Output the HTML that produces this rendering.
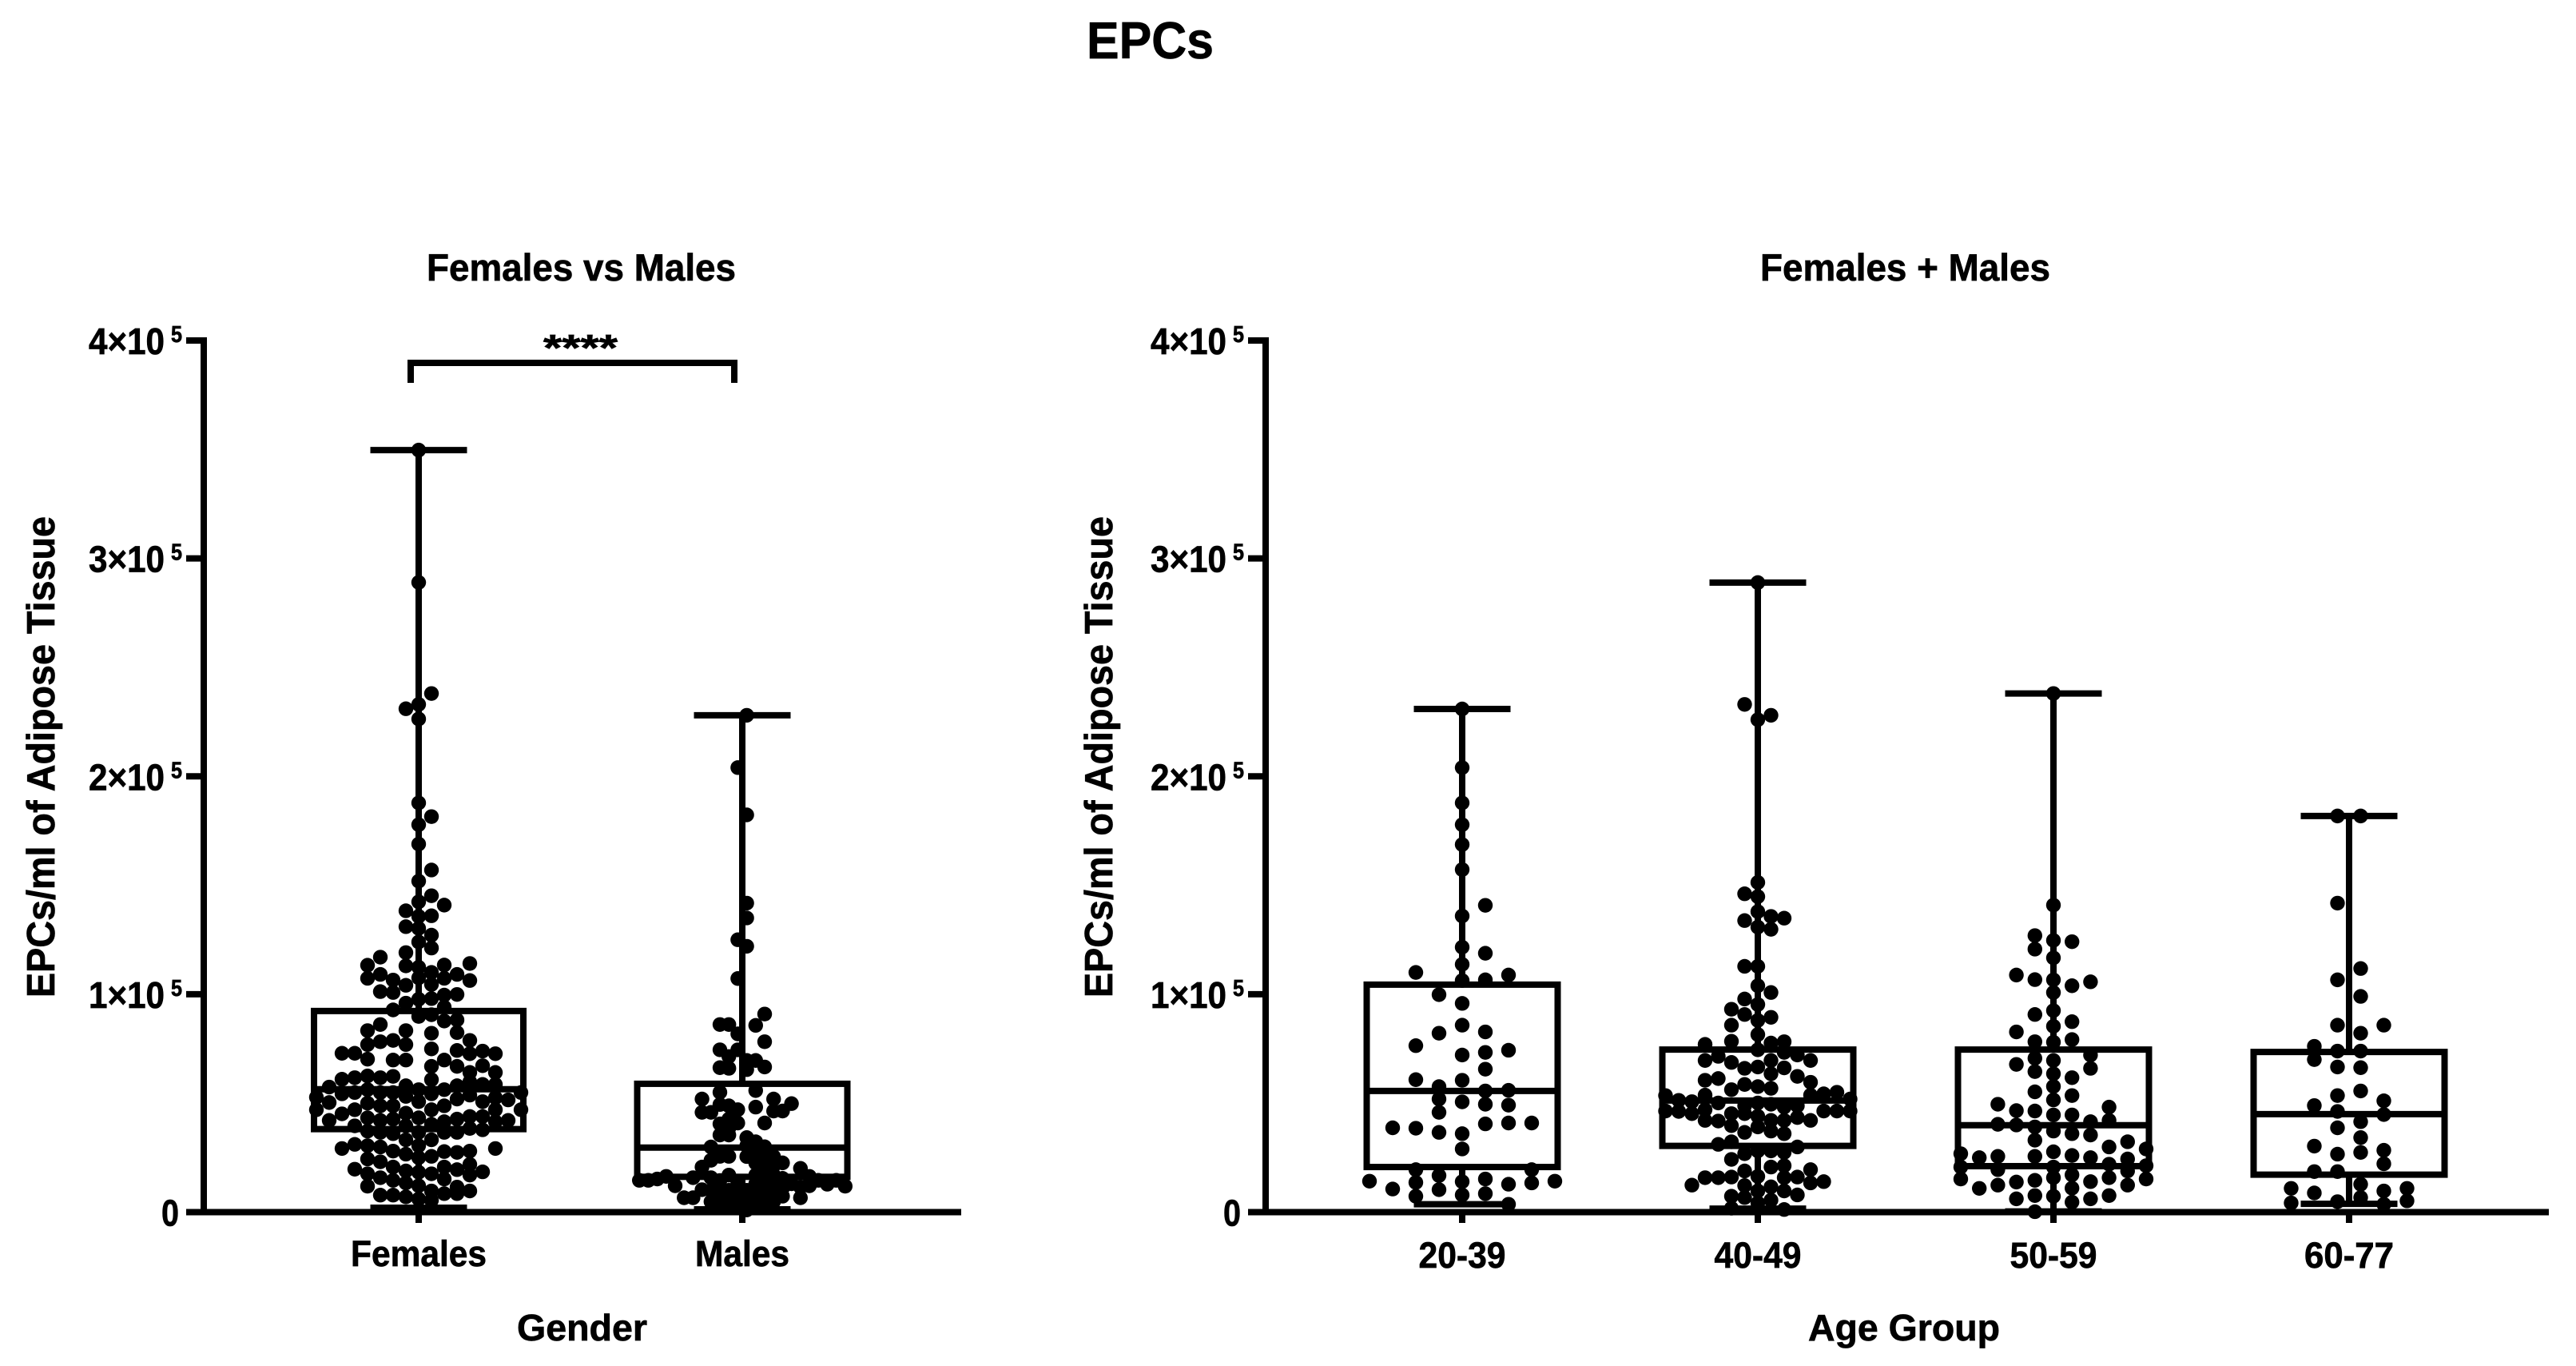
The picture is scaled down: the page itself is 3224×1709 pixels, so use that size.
<!DOCTYPE html>
<html lang="en">
<head>
<meta charset="utf-8">
<title>EPCs</title>
<style>
html,body{margin:0;padding:0;background:#fff;}
svg{display:block;}
text{font-family:"Liberation Sans",Arial,sans-serif;font-weight:bold;fill:#000;stroke:#000;stroke-width:0.7px;}
</style>
</head>
<body>
<svg id="chart" xmlns="http://www.w3.org/2000/svg" width="3224" height="1709" viewBox="0 0 3224 1709">
<rect x="0" y="0" width="3224" height="1709" fill="#fff"/>
<text x="1360" y="73" font-size="65" textLength="159" lengthAdjust="spacingAndGlyphs">EPCs</text>
<text x="534" y="351" font-size="47" textLength="387" lengthAdjust="spacingAndGlyphs">Females vs Males</text>
<text x="2203" y="351" font-size="47" textLength="363" lengthAdjust="spacingAndGlyphs">Females + Males</text>
<text x="68" y="1248" font-size="49" textLength="602" lengthAdjust="spacingAndGlyphs" transform="rotate(-90 68 1248)">EPCs/ml of Adipose Tissue</text>
<text x="1392" y="1248" font-size="49" textLength="602" lengthAdjust="spacingAndGlyphs" transform="rotate(-90 1392 1248)">EPCs/ml of Adipose Tissue</text>
<text x="647" y="1677" font-size="46" textLength="163" lengthAdjust="spacingAndGlyphs">Gender</text>
<text x="2263" y="1677" font-size="46" textLength="240" lengthAdjust="spacingAndGlyphs">Age Group</text>
<rect x="510" y="450" width="413" height="8" fill="#000"/>
<rect x="510" y="450" width="8" height="29" fill="#000"/>
<rect x="915" y="450" width="8" height="29" fill="#000"/>
<text x="680" y="451" font-size="46" textLength="93" lengthAdjust="spacingAndGlyphs">****</text>
</svg>
<script>
// Axis ticks and categories
const yTickValues = [0, 100000, 200000, 300000, 400000];
const yTickMantissa = ["0", "1×10", "2×10", "3×10", "4×10"];
const yTickExponent = ["", "5", "5", "5", "5"];
const genderCategories = ["Females", "Males"];
const ageCategories = ["20-39", "40-49", "50-59", "60-77"];

// Box statistics: [min, q1, median, q3, max]
const femalesBox = [2000, 38100, 56400, 92300, 349700];
const malesBox = [1300, 16200, 29600, 58900, 228000];
const age2039Box = [3600, 20700, 55600, 104400, 230900];
const age4049Box = [1600, 30400, 51200, 74600, 288900];
const age5059Box = [300, 21100, 39900, 74600, 238000];
const age6077Box = [3800, 17200, 45000, 73500, 181800];

// Swarm columns (integer/half-integer slot from centre) and the values in each
const femalesSlots = [-8,-7,-6,-5,-4,-3,-2,-1,0,1,2,3,4,5,6,7,8];
const femalesValues = [
[52700,47000],
[57400,50300,42100],
[72900,61000,54300,45100,29200],
[72900,61700,54900,47000,39600,31100,19700],
[113300,107300,83300,76900,70200,62500,56200,50000,43300,37200,30500,24400,17600,11900],
[117000,109100,101200,86100,78200,61700,54900,48800,42100,36600,29900,23100,15800,7800],
[106500,100800,92800,78800,69800,62300,54900,48800,42700,36000,28000,20700,14600,7800],
[231000,138300,131000,119100,113000,104100,95900,83300,76900,69800,58000,53100,45400,39600,33200,26600,18900,13400,7000],
[349700,289000,233000,226300,187800,177800,168900,151900,142400,135700,130200,124000,112400,107500,97700,89800,56200,50700,43300,36600,30500,25000,18300,12100,6000],
[238000,181500,157000,145200,136000,127100,121200,110000,104500,98000,90600,82100,74900,66900,60800,54300,47000,40300,33200,25600,17600,9700,5400],
[140900,113400,107300,99600,94100,87700,69800,56200,48800,41500,36600,27800,20700,15200,8500],
[109100,99900,88200,82400,74200,66900,58000,51900,42700,36600,27400,19500,11500,8500],
[114100,106300,78800,72700,64100,59800,53700,43900,38400,28000,21900,17000,9700],
[73900,67200,58600,50700,43900,37800,18500],
[72700,64100,58600,52500,47000,41500,29200],
[51500,42100],
[54900,47000]
];

const malesSlots = [-11.5,-10.5,-9.5,-8.5,-7.5,-6.5,-5.5,-4.5,-3.5,-2.5,-1.5,-0.5,0.5,1.5,2.5,3.5,4.5,5.5,6.5,7.5,8.5,9.5,10.5,11.5];
const malesValues = [
[14600],[14600],[15200],[16400],[12100],[6600],
[15800,6600],
[51900,45800,20700,10300],
[45800,29900,23800,15800,10000,4800],
[86100,74500,66300,55000,49400,40500,35400,25600,14500,10000,4800],
[86100,71400,66000,48800,42700,38500,35400,25600,17000,10000,4800],
[204000,125000,107200,81800,74500,47000,40900,13500,10000,6000,2000],
[228000,182300,141800,135000,122000,69600,65400,34200,30500,25500,10000,6000,1000],
[85700,69600,55800,48200,32300,28000,22500,17000,13000,10000,4800],
[90900,78200,66600,40900,30000,24400,20500,17000,13500,10000,4800],
[51900,46400,25500,21300,17000,13000,10000,7000,4800],
[46400,22600,15500,11000,7300],
[49800,13000],
[20100,11500,6600],
[16400,12100],
[14600],[12800],[14600],[11900]
];

const age2039Slots = [-4,-3,-2,-1,0,1,2,3,4];
const age2039Values = [
[14200],
[38700,10600],
[110000,76400,60800,38500,19500,13600,7300],
[99800,82100,57600,51900,45800,36600,16800,10300],
[230900,204000,187800,177800,168700,157200,135900,121600,113700,106300,95800,85800,72100,60500,50600,36000,29000,14000,7900],
[140800,118800,106600,82700,73300,65600,55600,49500,40500,15200,8500],
[108800,74300,55900,49100,40900,12800,3600],
[40900,19500,13400],
[14200]
];

const age4049Slots = [-7,-6,-5,-4,-3,-2,-1,0,1,2,3,4,5,6,7];
const age4049Values = [
[53500,46400],
[51300,46200],
[50700,45200,12400],
[77000,69600,60500,53700,47000,42100,15800],
[71500,61300,50100,41800,31100,15800],
[93100,85800,78400,68700,56200,45200,39700,32300,24200,16100,7300,1800],
[233000,146100,133800,112800,97800,90700,66000,58600,48800,45200,36600,26800,18900,12200,6700],
[288900,226000,151300,144800,137900,130800,112800,103900,95300,88000,81500,74500,66600,57600,50100,44000,39100,28100,16400,9700,4200],
[228000,135700,129800,100800,89400,77600,69600,63500,56800,49500,42100,37200,28100,20700,11600,5500],
[134900,78200,73300,66200,48200,42100,36000,27400,21300,15800,9700,1200],
[72100,62300,48800,43400,29900,16100,7900],
[69600,59600,53700,42100,19500,13400],
[54300,46400,14000],
[55000,46400],
[51900,46400]
];

const age5059Slots = [-5,-4,-3,-2,-1,0,1,2,3,4,5];
const age5059Values = [
[26800,20700,15200],
[25000,10900],
[49500,40300,25600,19500,12400],
[108800,82700,67800,46600,40000,13800,6100],
[126900,120700,106700,90700,78200,70600,64500,55200,46400,39100,33000,25600,14600,7600,200],
[238000,140900,124700,116700,106600,100800,92500,85300,78000,69600,63500,57700,51500,44600,37200,27700,20700,15800,7300],
[124100,103900,87400,79200,61700,53500,44600,36000,26000,17100,11000,4600],
[105700,72100,66000,41500,35400,25000,14000,6100],
[48200,42100,29900,22000,15800,7600],
[32300,24400,18900,12400],
[29000,21300,15200]
];

const age6077Slots = [-2.5,-1.5,-0.5,0.5,1.5,2.5];
const age6077Values = [
[10900,4200],
[76100,70000,48900,30300,18600,8800],
[181800,141800,106600,85800,73900,66600,53500,46200,38700,26600,18600,4800],
[181800,111800,99000,82100,73900,66300,55600,41500,34200,27400,12800,6700],
[85800,51100,44800,28400,22200,9700,3600],
[10900,5200]
];

const SVG_NS = "http://www.w3.org/2000/svg";
const svg = document.getElementById("chart");
const STROKE = 8;
const Y_ZERO = 1516.5;
const Y_TOP = 426;
const Y_MAX = 400000;
const DOT_R = 9.2;

function yScale(v) { return Y_ZERO - (v / Y_MAX) * (Y_ZERO - Y_TOP); }

function make(tag, attrs) {
  const el = document.createElementNS(SVG_NS, tag);
  for (const k in attrs) el.setAttribute(k, attrs[k]);
  svg.appendChild(el);
  return el;
}
function line(x1, y1, x2, y2) {
  return make("line", { x1: x1, y1: y1, x2: x2, y2: y2, stroke: "#000", "stroke-width": STROKE });
}

function drawYAxis(axisX) {
  const axis = line(axisX, Y_TOP - 4, axisX, Y_ZERO + 4);
  
  
  yTickValues.forEach(function (v, i) {
    const y = yScale(v);
    const tick = line(axisX - 22, y, axisX, y);
    
    
    const zero = yTickExponent[i] === "";
    const label = make("text", zero
      ? { x: axisX - 53, y: y + 17, "font-size": 46, textLength: 22, lengthAdjust: "spacingAndGlyphs" }
      : { x: axisX - 144, y: y + 17, "font-size": 46, textLength: 95, lengthAdjust: "spacingAndGlyphs" });
    
    
    label.textContent = yTickMantissa[i];
    if (!zero) {
      const sup = make("text", { x: axisX - 41, y: y + 2, "font-size": 29, textLength: 14, lengthAdjust: "spacingAndGlyphs" });
      
      
      sup.textContent = yTickExponent[i];
    }
  });
}

function drawXAxis(axisX, endX, categories, xScale, labelWidths, baseline) {
  const axis = line(axisX - 22, Y_ZERO, endX, Y_ZERO);
  
  
  categories.forEach(function (name, i) {
    const x = xScale(i);
    const tick = line(x, Y_ZERO, x, 1530);
    
    
    const label = make("text", { x: x - labelWidths[i] / 2, y: baseline, "font-size": 45, textLength: labelWidths[i], lengthAdjust: "spacingAndGlyphs" });
    
    
    label.textContent = name;
  });
}

function drawGroup(cx, name, box, halfWidth, slots, values, spacing) {
  const yMin = yScale(box[0]), yQ1 = yScale(box[1]), yMed = yScale(box[2]), yQ3 = yScale(box[3]), yMax = yScale(box[4]);
  const capHalf = 60.5;

  const whiskerUp = line(cx, yQ3, cx, yMax);
  
  
  const whiskerDown = line(cx, yQ1, cx, yMin);
  
  
  const capTop = line(cx - capHalf, yMax, cx + capHalf, yMax);
  
  
  const capBottom = line(cx - capHalf, yMin, cx + capHalf, yMin);
  
  

  const rect = make("rect", { x: cx - halfWidth, y: yQ3, width: halfWidth * 2, height: yQ1 - yQ3, fill: "none", stroke: "#000", "stroke-width": STROKE });
  
  
  const median = line(cx - halfWidth, yMed, cx + halfWidth, yMed);
  
  

  slots.forEach(function (slot, c) {
    values[c].forEach(function (v) {
      const dot = make("circle", { cx: cx + slot * spacing, cy: yScale(v), r: DOT_R, fill: "#000" });
      
      
    });
  });
}

function genderX(i) { return 524 + i * 405; }
function ageX(i) { return 1830 + i * 370; }

drawYAxis(255);
drawYAxis(1584);
drawXAxis(255, 1203, genderCategories, genderX, [170, 118], 1584);
drawXAxis(1584, 3190, ageCategories, ageX, [109, 109, 109, 112], 1586);

drawGroup(genderX(0), "females", femalesBox, 131, femalesSlots, femalesValues, 16);
drawGroup(genderX(1), "males", malesBox, 131.5, malesSlots, malesValues, 11.2);
drawGroup(ageX(0), "age-20-39", age2039Box, 119.5, age2039Slots, age2039Values, 29);
drawGroup(ageX(1), "age-40-49", age4049Box, 119.5, age4049Slots, age4049Values, 16.5);
drawGroup(ageX(2), "age-50-59", age5059Box, 119.5, age5059Slots, age5059Values, 23.2);
drawGroup(ageX(3), "age-60-77", age6077Box, 119.5, age6077Slots, age6077Values, 29);
</script>
</body>
</html>
